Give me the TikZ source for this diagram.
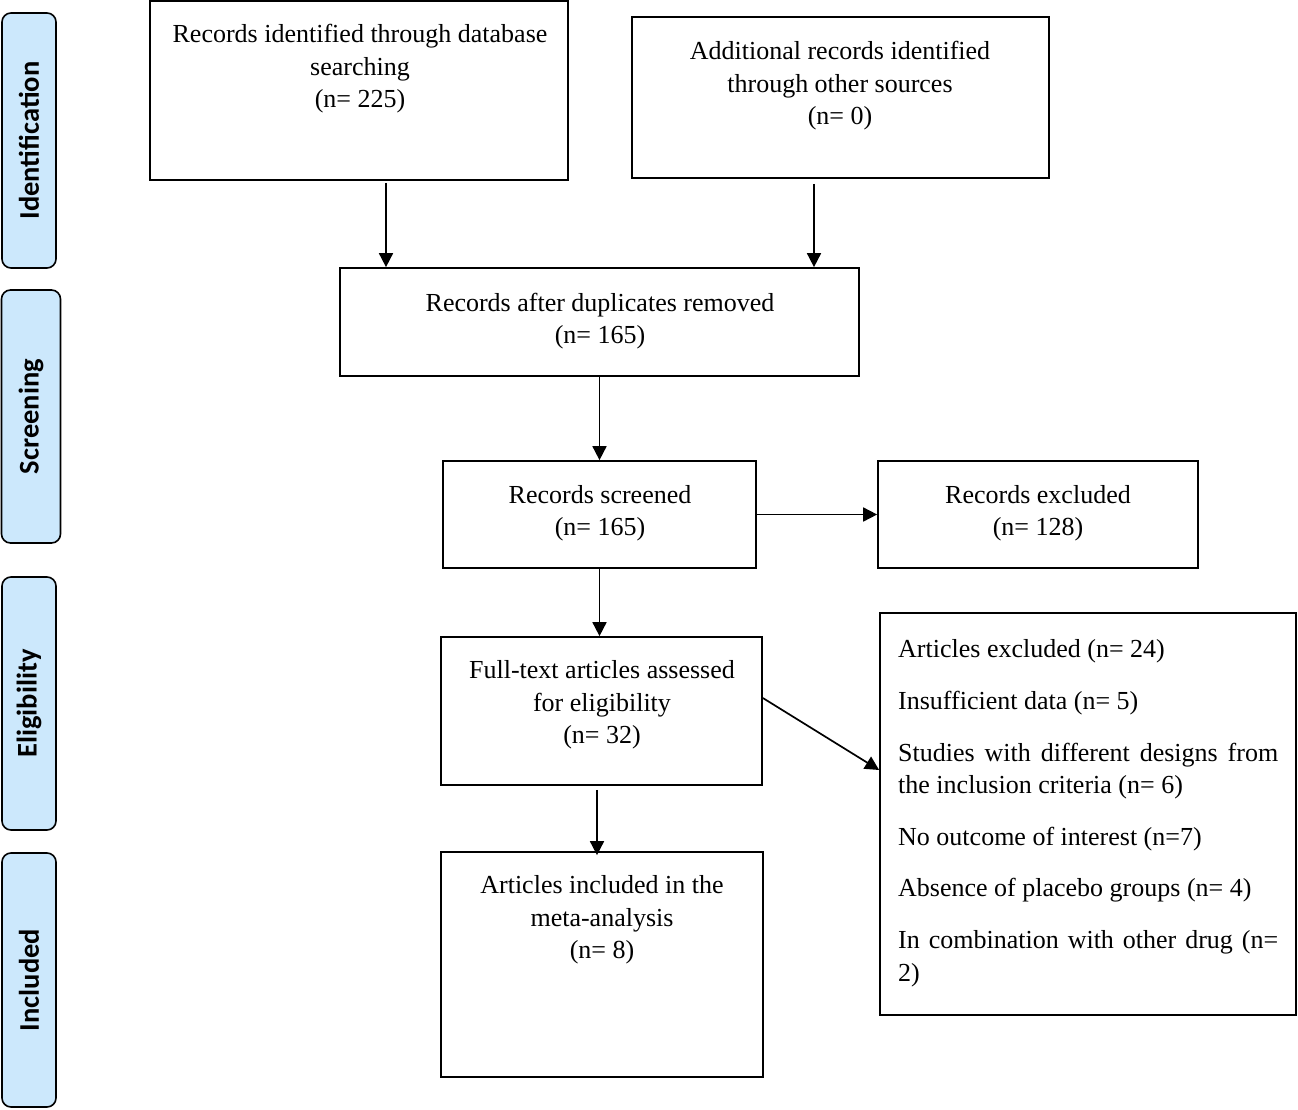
\documentclass[tikz,border=0pt]{standalone}
\usepackage{fontspec}
\setmainfont{Liberation Serif}
\newfontfamily\sidefont{Carlito}
\usetikzlibrary{arrows.meta}
\definecolor{sideblue}{RGB}{204,232,252}
\begin{document}
\begin{tikzpicture}[x=1pt,y=-1pt,
  box/.style={draw, line width=1.7pt, inner sep=0pt},
  txt/.style={align=center, inner sep=0pt, font=\fontsize{26}{32.4}\selectfont},
  side/.style={draw, line width=1.6pt, fill=sideblue, rounded corners=9pt, inner sep=0pt,
    rotate=90, font=\sidefont\bfseries\fontsize{28.5}{30}\selectfont},
  arr/.style={-{Triangle[length=14pt,width=14pt]}, line width=1.7pt}]
\useasboundingbox (0,0) rectangle (1298,1110);

% side labels
\node[side, minimum width=255pt, minimum height=54pt] (s1) at (29,140.5) {Identification};
\node[side, minimum width=253pt, minimum height=59pt] (s2) at (31,416.5) {Screening};
\node[side, minimum width=253pt, minimum height=54pt] (s3) at (29,703.5) {Eligibility};
\node[side, minimum width=254pt, minimum height=54pt] (s4) at (29,980) {Included};

% boxes
\node[box, minimum width=418pt, minimum height=179pt] (A) at (359,90.5) {};
\node[box, minimum width=417pt, minimum height=161pt] (B) at (840.5,97.5) {};
\node[box, minimum width=519pt, minimum height=108pt] (C) at (599.5,322) {};
\node[box, minimum width=313pt, minimum height=107pt] (D) at (599.5,514.5) {};
\node[box, minimum width=320pt, minimum height=107pt] (E) at (1038,514.5) {};
\node[box, minimum width=321pt, minimum height=148pt] (F) at (601.5,711) {};
\node[box, minimum width=322pt, minimum height=225pt] (G) at (602,964.5) {};
\node[box, minimum width=416pt, minimum height=402pt] (H) at (1088,814) {};

% texts
\node[txt] (At) at (360,69) {Records identified through database\\searching\\(n= 225)};
\node[txt] (Bt) at (840,86) {Additional records identified\\through other sources\\(n= 0)};
\node[txt] (Ct) at (600,321) {Records after duplicates removed\\(n= 165)};
\node[txt] (Dt) at (600,513.5) {Records screened\\(n= 165)};
\node[txt] (Et) at (1038,513.5) {Records excluded\\(n= 128)};
\node[txt] (Ft) at (602,705) {Full-text articles assessed\\for eligibility\\(n= 32)};
\node[txt] (Gt) at (602,920) {Articles included in the\\meta-analysis\\(n= 8)};
\node[inner sep=0pt, anchor=north west, text width=380pt, align=justify,
  font=\fontsize{26}{32.4}\selectfont] (Ht) at (898,639.5)
  {\setlength{\parskip}{19.3pt}\setlength{\parindent}{0pt}\hyphenpenalty=10000\exhyphenpenalty=10000
   Articles excluded (n= 24)\par
   Insufficient data (n= 5)\par
   Studies with different designs from the inclusion criteria (n= 6)\par
   No outcome of interest (n=7)\par
   Absence of placebo groups (n= 4)\par
   In combination with other drug (n= 2)\par};

% arrows
\draw[arr] ([xshift=27pt,yshift=-2pt]A.south) -- ([xshift=27pt]A.south |- C.north);
\draw[arr] ([xshift=-26.5pt,yshift=-5pt]B.south) -- ([xshift=-26.5pt]B.south |- C.north);
\draw[arr] (C.south) -- (D.north);
\draw[arr] (D.east) -- (E.west);
\draw[arr] (D.south) -- (D.south |- F.north);
\draw[arr] ([yshift=13pt]F.east) -- ([yshift=44pt]H.west);
\draw[arr] ([xshift=-4.5pt,yshift=-4pt]F.south) -- ([xshift=-4.5pt,yshift=-4pt]F.south |- G.north);
\end{tikzpicture}
\end{document}
